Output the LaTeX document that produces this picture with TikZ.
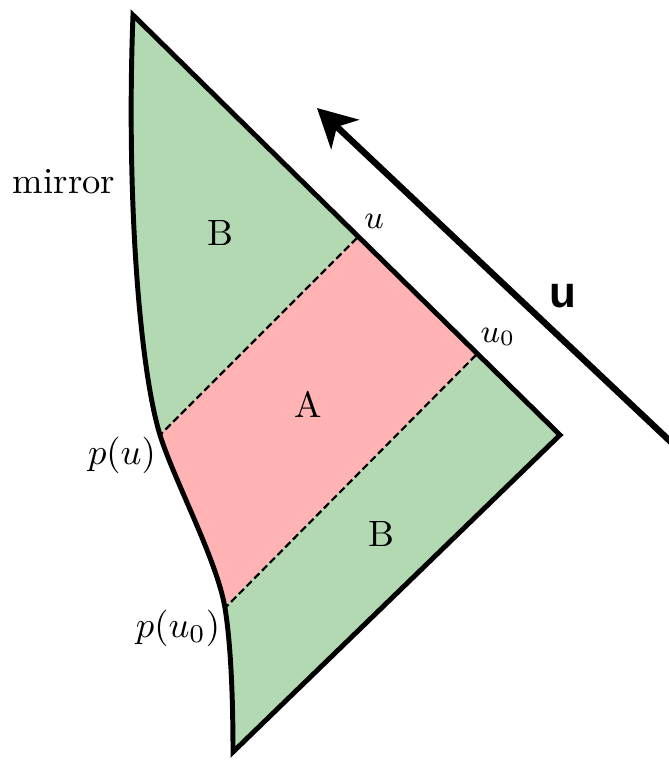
\documentclass[tikz,border=0pt]{standalone}
\usepackage{fontspec}
\newfontfamily\axisfont{Liberation Sans}
\usetikzlibrary{arrows.meta}
\definecolor{regB}{HTML}{B3D9B3}
\definecolor{regA}{HTML}{FFB3B3}
\begin{document}
\begin{tikzpicture}[x=0.2732pt,y=-0.2732pt,
  outline/.style={line width=1.35pt, line join=miter},
  divider/.style={line width=0.6pt, dash pattern=on 2pt off 1pt},
  lbl/.style={inner sep=0pt, anchor=base, font=\fontsize{10}{12}\selectfont},
  ptlbl/.style={inner sep=0pt, anchor=base, font=\small},
  axislbl/.style={inner sep=0pt, anchor=base, font=\axisfont\bfseries\fontsize{12}{14}\selectfont},
  axis/.style={line width=1.75pt, -{Stealth[length=10.5pt,width=11pt,inset=3pt]}}]
\useasboundingbox (0,0) rectangle (669,768);
\coordinate (T) at (133,15);
\coordinate (R) at (560,435);
\coordinate (Bo) at (233,752);
\coordinate (u) at (357,238);
\coordinate (u0) at (476,355);
\coordinate (pu) at (160,435);
\coordinate (pu0) at (225,608);
% green region
\fill[regB] (Bo) -- (R) -- (T) .. controls (126,200) and (140,370) .. (pu)
  .. controls (174,480) and (217,560) .. (pu0)
  .. controls (231,645) and (233,700) .. (Bo) -- cycle;
% pink band
\begin{scope}
  \clip (u) -- (u0) -- ++(-400,400) -- (-43,638) -- cycle;
  \fill[regA] (Bo) -- (R) -- (T) .. controls (126,200) and (140,370) .. (pu)
    .. controls (174,480) and (217,560) .. (pu0)
    .. controls (231,645) and (233,700) .. (Bo) -- cycle;
\end{scope}
% dividers
\draw[divider] (u) -- (pu);
\draw[divider] (u0) -- (pu0);
% outline
\draw[outline] (Bo) -- (R) -- (T) .. controls (126,200) and (140,370) .. (pu)
  .. controls (174,480) and (217,560) .. (pu0)
  .. controls (231,645) and (233,700) .. (Bo) -- cycle;
% axis arrow
\coordinate (a1) at (672,443);
\coordinate (a2) at (317,108);
\draw[axis] (a1) -- (a2);
% labels
\node[lbl] (mirrorlbl) at (64,193) {mirror};
\node[lbl] (Btop) at (220,245) {B};
\node[lbl] (Alb) at (308,417) {A};
\node[lbl] (Bbot) at (381,546) {B};
\node[lbl] (pulbl) at (122,464) {$p(u)$};
\node[lbl] (pu0lbl) at (178,637) {$p(u_0)$};
\node[ptlbl] (ulbl) at (374,228) {$u$};
\node[ptlbl] (u0lbl) at (498,342) {$u_0$};
\node[axislbl] (uaxis) at (563,307) {u};
\end{tikzpicture}
\end{document}
